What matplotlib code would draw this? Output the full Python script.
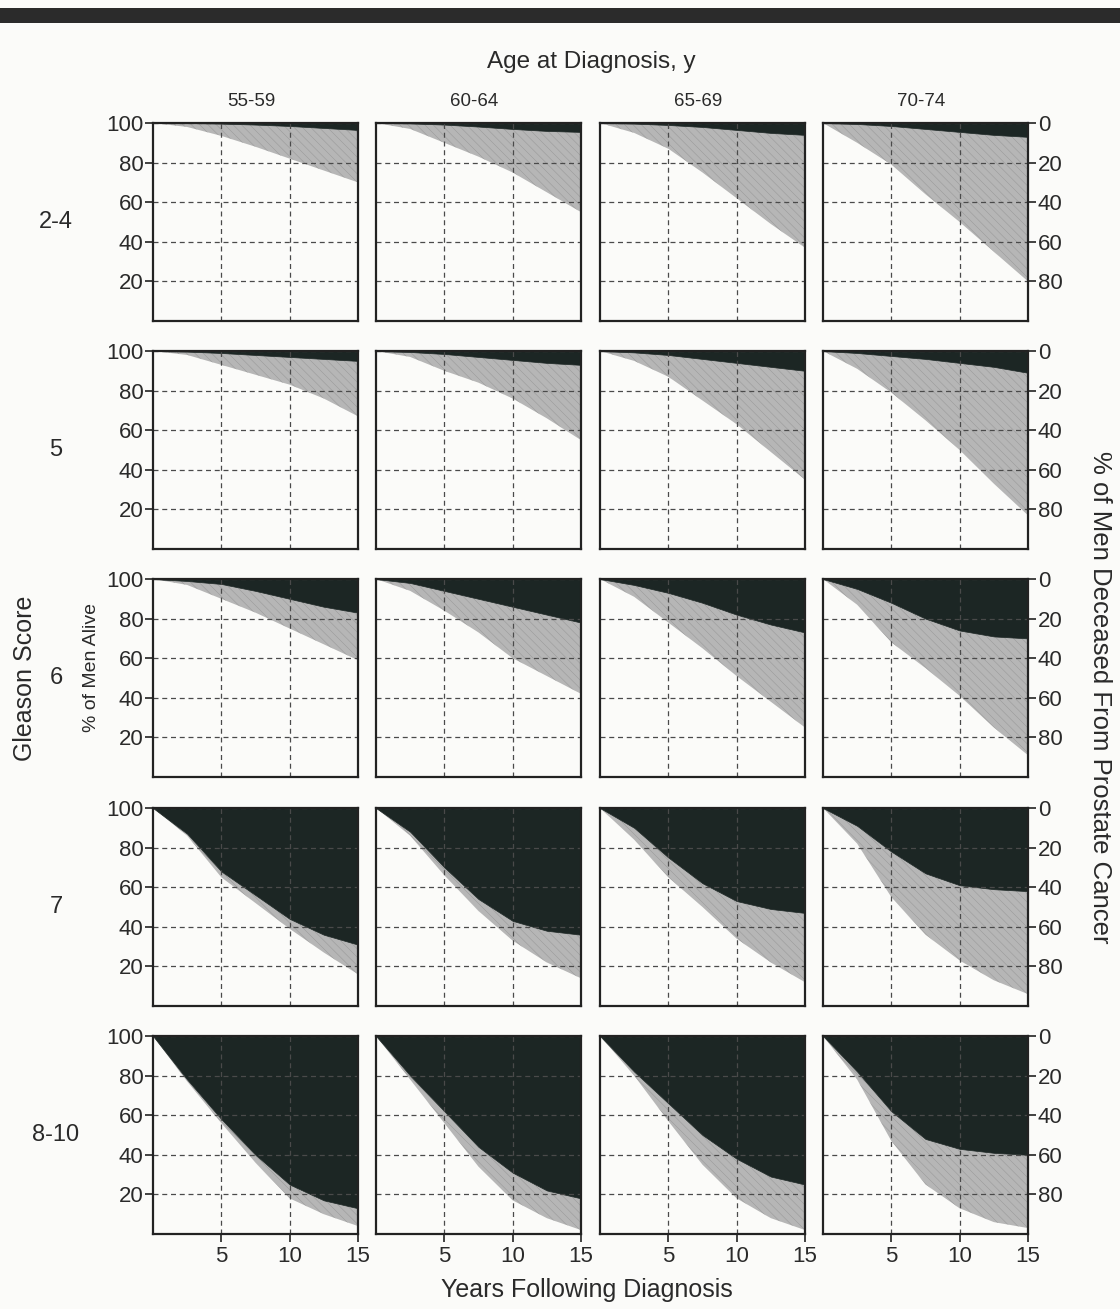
# -*- coding: utf-8 -*-
"""Survival bands by Gleason score and age at diagnosis (5 x 4 small multiples)."""

import matplotlib

matplotlib.use("Agg")
import matplotlib.pyplot as plt
from matplotlib.patches import Rectangle

plt.rcParams["font.family"] = ["Liberation Sans", "DejaVu Sans"]
plt.rcParams["hatch.linewidth"] = 0.35

# ==================== Data ====================
YEARS = [0, 2.5, 5, 7.5, 10, 12.5, 15]
AGE_GROUPS = ["55-59", "60-64", "65-69", "70-74"]
GLEASON_GROUPS = ["2-4", "5", "6", "7", "8-10"]

# % of men alive (lower edge of the gray band), one list per age group
ALIVE_G24 = [
    [100, 98, 93.5, 88, 82, 76, 70],
    [100, 97, 90, 83, 75, 65, 55],
    [100, 95, 87, 75, 62, 49, 37],
    [100, 90, 79, 64, 50, 35, 20],
]
ALIVE_G5 = [
    [100, 98, 93, 88, 83, 76, 67],
    [100, 97, 90, 84, 76, 66, 55],
    [100, 95, 87, 75, 63, 49, 35],
    [100, 91, 79, 65, 50, 33, 17],
]
ALIVE_G6 = [
    [100, 97, 90, 83, 75, 67, 59],
    [100, 94, 84, 73, 60, 51, 42],
    [100, 91, 78, 65, 51, 38, 25],
    [100, 87, 68, 55, 41, 25, 11],
]
ALIVE_G7 = [
    [100, 86, 65, 52, 39, 27, 16],
    [100, 86, 66, 48, 33, 22, 14],
    [100, 84, 65, 50, 34, 22, 12],
    [100, 82, 55, 36, 23, 13, 6],
]
ALIVE_G810 = [
    [100, 77, 56, 36, 18, 10, 4],
    [100, 78, 56, 34, 17, 8, 2],
    [100, 80, 57, 35, 18, 8, 2],
    [100, 78, 47, 25, 13, 6, 3],
]

# % of men deceased from prostate cancer (black area, read on right axis)
PCA_DEAD_G24 = [
    [0, 0, 0.3, 0.8, 1.5, 2.5, 3.5],
    [0, 0.2, 0.8, 1.8, 3, 4, 4.5],
    [0, 0.3, 1, 2, 3.5, 5, 6],
    [0, 0.5, 1.5, 3, 4.5, 6, 7],
]
PCA_DEAD_G5 = [
    [0, 0.3, 1, 2, 3, 4, 5],
    [0, 0.5, 1.5, 3, 4.5, 6, 7],
    [0, 0.7, 2, 4, 6, 8, 10],
    [0, 1, 2.5, 4, 6, 8, 11],
]
PCA_DEAD_G6 = [
    [0, 1, 2.5, 6, 10, 14, 17],
    [0, 2, 6, 10, 14, 18, 22],
    [0, 3, 7, 12, 18, 23, 27],
    [0, 5, 12, 20, 26, 29, 30],
]
PCA_DEAD_G7 = [
    [0, 13, 32, 44, 56, 64, 69],
    [0, 12, 30, 46, 57, 62, 64],
    [0, 10, 25, 38, 47, 51, 53],
    [0, 9, 22, 33, 39, 41, 42],
]
PCA_DEAD_G810 = [
    [0, 22, 42, 60, 75, 83, 87],
    [0, 20, 38, 56, 69, 78, 82],
    [0, 18, 34, 50, 62, 71, 75],
    [0, 18, 38, 52, 57, 59, 60],
]

ALIVE_ROWS = [ALIVE_G24, ALIVE_G5, ALIVE_G6, ALIVE_G7, ALIVE_G810]
PCA_ROWS = [PCA_DEAD_G24, PCA_DEAD_G5, PCA_DEAD_G6, PCA_DEAD_G7, PCA_DEAD_G810]

X_TICKS = [5, 10, 15]
Y_TICKS = [20, 40, 60, 80, 100]
# ===============================================

W, H = 1120, 1309
PANEL_LEFTS = [153, 376, 600, 823]
PANEL_TOPS = [123, 351, 579, 808, 1036]
PANEL_W, PANEL_H = 205, 198

BG = "#fbfbf9"
GRAY = "#b6b6b6"
HATCH_C = "#979797"
BLACK = "#1c2624"
TEXT_C = "#2a2a2a"
GRID_C = "#4a4a4a"


def fx(px):
    return px / W


def fy(py):
    return 1 - py / H


def draw_panel(ax, alive, pca_dead, row, col):
    upper = [100 - d for d in pca_dead]
    ax.set_facecolor(BG)
    ax.fill_between(YEARS, alive, upper, facecolor=GRAY, edgecolor=HATCH_C,
                    hatch="\\\\\\\\", linewidth=0, zorder=1)
    ax.fill_between(YEARS, upper, 100, facecolor=BLACK, edgecolor=BLACK,
                    linewidth=0.5, zorder=2)
    ax.set_xlim(0, 15)
    ax.set_ylim(0, 100)
    ax.set_xticks(X_TICKS)
    ax.set_yticks(Y_TICKS)
    ax.grid(True, color=GRID_C, linestyle=(0, (4, 3)), linewidth=0.9, zorder=3)
    ax.set_axisbelow(False)
    for sp in ax.spines.values():
        sp.set_linewidth(1.6)
        sp.set_color("#222222")
        sp.set_zorder(4)

    ax.tick_params(direction="out", length=6, width=1.2, color="#222222",
                   labelsize=16, labelcolor=TEXT_C, pad=1)
    last_row = row == len(GLEASON_GROUPS) - 1
    ax.tick_params(axis="x", bottom=last_row, labelbottom=last_row, pad=3)
    if col == 0:
        ax.tick_params(axis="y", left=True, labelleft=True, right=False)
    elif col == len(AGE_GROUPS) - 1:
        ax.tick_params(axis="y", left=False, labelleft=False,
                       right=True, labelright=True)
        ax.set_yticklabels([str(100 - t) for t in Y_TICKS])
    else:
        ax.tick_params(axis="y", left=False, labelleft=False)


def main():
    fig = plt.figure(figsize=(W / 100, H / 100), dpi=100)
    fig.patch.set_facecolor(BG)

    # dark rule across the top of the page
    fig.add_artist(Rectangle((0, fy(23)), 1, 15 / H, transform=fig.transFigure,
                             facecolor="#2b2b2b", edgecolor="none"))

    for r, (alive_row, pca_row) in enumerate(zip(ALIVE_ROWS, PCA_ROWS)):
        for c in range(len(AGE_GROUPS)):
            ax = fig.add_axes([fx(PANEL_LEFTS[c]), fy(PANEL_TOPS[r] + PANEL_H),
                               fx(PANEL_W), PANEL_H / H])
            draw_panel(ax, alive_row[c], pca_row[c], r, c)

    for c, label in enumerate(AGE_GROUPS):
        fig.text(fx(PANEL_LEFTS[c] + PANEL_W / 2 - 4), fy(102), label,
                 ha="center", va="center", fontsize=13.5, color=TEXT_C)
    for r, label in enumerate(GLEASON_GROUPS):
        fig.text(fx(56), fy(PANEL_TOPS[r] + PANEL_H / 2), label, ha="center",
                 va="center", fontsize=17, color=TEXT_C)

    fig.text(fx(591), fy(62), "Age at Diagnosis, y", ha="center", va="center",
             fontsize=17.5, color=TEXT_C)
    fig.text(fx(587), fy(1290), "Years Following Diagnosis", ha="center",
             va="center", fontsize=18, color=TEXT_C)
    fig.text(fx(25), fy(678), "Gleason Score", ha="center", va="center",
             rotation=90, fontsize=18, color=TEXT_C)
    fig.text(fx(91), fy(667), "% of Men Alive", ha="center", va="center",
             rotation=90, fontsize=14, color=TEXT_C)
    fig.text(fx(1100), fy(697), "% of Men Deceased From Prostate Cancer",
             ha="center", va="center", rotation=270, fontsize=18.5,
             color=TEXT_C)

    fig.savefig("out.png", dpi=100, facecolor=BG)
    plt.close(fig)


if __name__ == "__main__":
    main()
